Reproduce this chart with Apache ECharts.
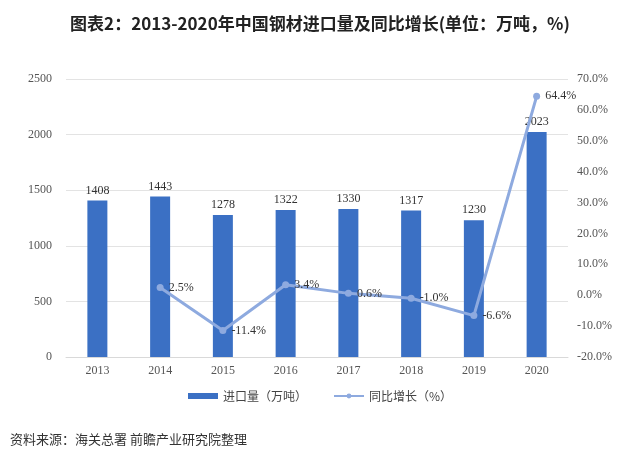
<!DOCTYPE html>
<html><head><meta charset="utf-8">
<script src="https://cdn.jsdelivr.net/npm/echarts@6/dist/echarts.min.js"></script>
<style>html,body{margin:0;padding:0;background:#fff;}#c{width:640px;height:465px;}</style>
</head><body><div id="c"></div>
<script>
const categories = ['2013','2014','2015','2016','2017','2018','2019','2020'];
const importVolume = [1408,1443,1278,1322,1330,1317,1230,2023];
const yoyGrowth = [null,2.5,-11.4,3.4,0.6,-1.0,-6.6,64.4];
const leftTicks = [0,500,1000,1500,2000,2500];
const rightTicks = [-20,-10,0,10,20,30,40,50,60,70];

const serif = '"Liberation Serif","DejaVu Serif",serif';
const cjk = '"Noto Sans CJK SC","Noto Sans",sans-serif';
const chart = echarts.init(document.getElementById('c'));
chart.setOption({
  backgroundColor:'#fff',
  animation:false,
  title:{text:'图表2：2013-2020年中国钢材进口量及同比增长(单位：万吨，%)',left:'center',top:10,
    textStyle:{fontFamily:cjk,fontSize:17,fontWeight:'bold',color:'#222'}},
  graphic:[{type:'text',left:10,top:433,style:{text:'资料来源：海关总署 前瞻产业研究院整理',fontFamily:cjk,fontSize:13,fill:'#333'}}],
  legend:{bottom:58,left:'center',itemGap:26,itemWidth:30,itemHeight:6,
    textStyle:{fontFamily:cjk,fontSize:12,color:'#444'},
    data:[{name:'进口量（万吨）',icon:'rect'},{name:'同比增长（%）'}]},
  grid:{left:66,right:72,top:79,bottom:108},
  xAxis:{type:'category',data:categories,
    axisLine:{lineStyle:{color:'#d9d9d9'}},axisTick:{show:false},
    axisLabel:{fontFamily:serif,fontSize:12,color:'#555',margin:8}},
  yAxis:[
    {type:'value',min:leftTicks[0],max:leftTicks[leftTicks.length-1],interval:500,
     axisLine:{show:false},axisTick:{show:false},
     splitLine:{lineStyle:{color:'#e3e3e3'}},
     axisLabel:{fontFamily:serif,fontSize:12,color:'#555',margin:14,formatter:v=>String(v)}},
    {type:'value',min:rightTicks[0],max:rightTicks[rightTicks.length-1],interval:10,
     axisLine:{show:false},axisTick:{show:false},splitLine:{show:false},
     axisLabel:{fontFamily:serif,fontSize:12,color:'#555',margin:9,formatter:v=>v.toFixed(1)+'%'}}
  ],
  series:[
    {name:'进口量（万吨）',type:'bar',data:importVolume,barWidth:20,
     itemStyle:{color:'#3b70c4'},
     label:{show:true,position:'top',fontFamily:serif,fontSize:12,color:'#333',distance:4}},
    {name:'同比增长（%）',type:'line',yAxisIndex:1,data:yoyGrowth,
     symbol:'circle',symbolSize:7,connectNulls:false,
     lineStyle:{color:'#8eaadf',width:3},itemStyle:{color:'#8eaadf'},
     label:{show:true,position:'right',distance:5,fontFamily:serif,fontSize:12,color:'#333',
       formatter:p=>p.value.toFixed(1)+'%'}}
  ]
});
</script></body></html>
